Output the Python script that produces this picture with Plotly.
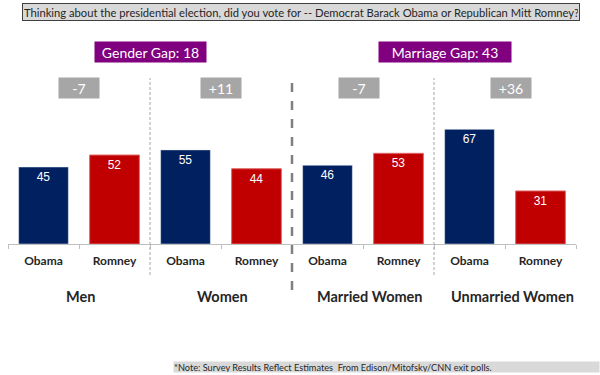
import plotly.graph_objects as go

groups = ["Men", "Women", "Married Women", "Unmarried Women"]
candidates = ["Obama", "Romney"]
obama = [45, 55, 46, 67]
romney = [52, 44, 53, 31]
gaps = ["-7", "+11", "-7", "+36"]
big_gaps = ["Gender Gap: 18", "Marriage Gap: 43"]
title_text = "Thinking about the presidential election, did you vote for -- Democrat Barack Obama or Republican Mitt Romney?"
note_text = "*Note: Survey Results Reflect Estimates  From Edison/Mitofsky/CNN exit polls."

NAVY = "#002060"
RED = "#C00000"
FONT = "Lato"

W, H = 600, 375
ML, MR, MT, MB = 8, 24, 0, 131
PH = H - MT - MB
PW = W - ML - MR


def py(p):
    return (H - MB - p) / PH


def pxp(p):
    return (p - ML) / PW


x_ob = [2 * i for i in range(len(groups))]
x_ro = [2 * i + 1 for i in range(len(groups))]

fig = go.Figure()
fig.add_trace(go.Bar(x=x_ob, y=obama, marker_color=NAVY, width=0.7,
                     text=obama, textposition="inside", insidetextanchor="end",
                     textfont=dict(color="white", size=12, family="Liberation Sans"),
                     showlegend=False, hoverinfo="skip"))
fig.add_trace(go.Bar(x=x_ro, y=romney, marker_color=RED, width=0.7,
                     marker_line=dict(color="#e06666", width=1),
                     text=romney, textposition="inside", insidetextanchor="end",
                     textfont=dict(color="white", size=12, family="Liberation Sans"),
                     showlegend=False, hoverinfo="skip"))

n = 2 * len(groups)
fig.update_layout(
    width=W, height=H, margin=dict(l=ML, r=MR, t=MT, b=MB),
    plot_bgcolor="white", paper_bgcolor="white", bargap=0.3,
    xaxis=dict(range=[-0.5, n - 0.5], tickmode="array",
               tickvals=list(range(n)), ticktext=candidates * len(groups),
               tickfont=dict(family=FONT, size=12, color="#262626", weight="bold"),
               ticks="", ticklabelstandoff=6, showgrid=False, zeroline=False,
               showline=True, linecolor="#bfbfbf", linewidth=1,
               minor=dict(tickvals=[i - 0.5 for i in range(n + 1)], ticks="outside",
                          ticklen=4, tickcolor="#bfbfbf", showgrid=False)),
    yaxis=dict(range=[0, PH / 1.711], visible=False, showgrid=False, zeroline=False),
)

ann = []
# title box
ann.append(dict(xref="paper", yref="paper", x=pxp(22), y=py(3), xanchor="left", yanchor="top",
                text=title_text, showarrow=False, align="left",
                font=dict(family=FONT, size=11.2, color="#262626"),
                bgcolor="#d9d9d9", bordercolor="#404040", borderwidth=1, borderpad=1,
                width=554, height=14))
# big gap boxes
for txt, cx, w in zip(big_gaps, [150.5, 445], [111, 132]):
    ann.append(dict(xref="paper", yref="paper", x=pxp(cx), y=py(52), xanchor="center", yanchor="middle",
                    text=txt, showarrow=False, font=dict(family=FONT, size=14, color="white"),
                    bgcolor="#800080", borderpad=0, width=w, height=20))
# small gap boxes
for txt, cx in zip(gaps, [79, 221, 359, 511]):
    ann.append(dict(xref="paper", yref="paper", x=pxp(cx), y=py(88), xanchor="center", yanchor="middle",
                    text=txt, showarrow=False, font=dict(family=FONT, size=14, color="white"),
                    bgcolor="#a6a6a6", borderpad=0, width=40, height=20))
# group labels
for txt, cx in zip(groups, [80, 222, 370, 512]):
    ann.append(dict(xref="paper", yref="paper", x=pxp(cx), y=py(296), xanchor="center", yanchor="middle",
                    text=txt, showarrow=False,
                    font=dict(family=FONT, size=14.5, color="#262626", weight="bold")))
# note
ann.append(dict(xref="paper", yref="paper", x=pxp(173), y=py(367), xanchor="left", yanchor="middle",
                text=note_text, showarrow=False, align="left",
                font=dict(family=FONT, size=9.2, color="#262626"),
                bgcolor="#d9d9d9", borderpad=0, width=425, height=10))
fig.update_layout(annotations=ann)

shapes = []
for b, col, wd, y0 in [(1.5, "#a6a6a6", 1, 275), (3.5, "#808080", 2.5, 290), (5.5, "#a6a6a6", 1, 275)]:
    xp = (b + 0.5) / n
    shapes.append(dict(type="line", xref="paper", yref="paper", x0=xp, x1=xp, y0=py(y0), y1=py(78),
                       line=dict(color=col, width=wd, dash="dash" if wd > 1 else "3px,2px")))
fig.update_layout(shapes=shapes)

fig.write_html("out.html", config={"displayModeBar": False},
               post_script="document.body.style.margin='0px';document.body.style.overflow='hidden';")
